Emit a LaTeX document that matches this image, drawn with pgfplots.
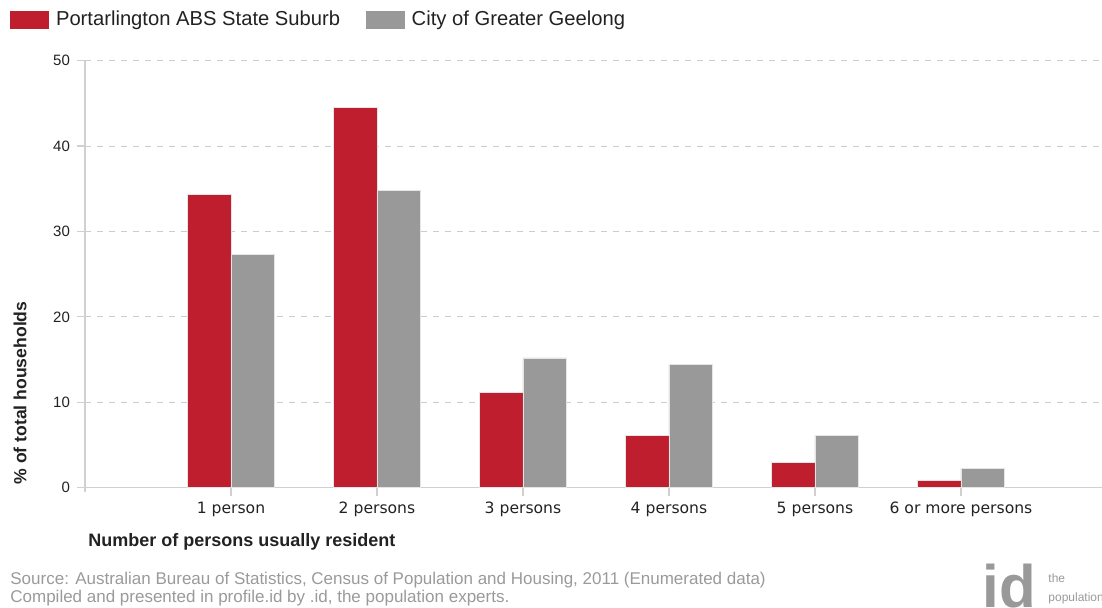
\documentclass[border=0pt]{standalone}
\usepackage{pgfplots}
\pgfplotsset{compat=1.18}
\usepackage{fontspec}
\setmainfont{Liberation Sans}
\newfontfamily\dejavu{DejaVu Sans}
\definecolor{barred}{HTML}{BE1E2D}
\definecolor{bargrey}{HTML}{999999}
\definecolor{axisgrey}{HTML}{D0D0D0}
\definecolor{gridgrey}{HTML}{CCCCCC}
\definecolor{txt}{HTML}{222222}
\definecolor{foot}{HTML}{9A9A9A}
\begin{document}
\begin{tikzpicture}
\path[use as bounding box] (0,0) rectangle (551pt,304pt);
\begin{axis}[
  at={(42.5pt,60.15pt)}, anchor=south west,
  scale only axis, width=508.5pt, height=213.5pt,
  xmin=0, xmax=6.966, ymin=0, ymax=50,
  enlargelimits=false,
  axis lines=left,
  axis line style={-, draw=axisgrey, line width=0.8pt},
  ytick={0,10,20,30,40,50},
  xtick={1,2,3,4,5,6},
  xticklabels={1 person,2 persons,3 persons,4 persons,5 persons,6 or more persons},
  x tick label style={font=\dejavu\fontsize{7.8}{9}\selectfont, text=txt, text height=6pt, text depth=1.6pt, yshift=0.5pt},
  y tick label style={font=\fontsize{7.5}{9}\selectfont, text=txt},
  /pgf/number format/assume math mode=true,
  tick align=outside,
  major tick length=4pt,
  tick style={draw=axisgrey, line width=0.6pt},
  ymajorgrids,
  grid style={dashed, draw=gridgrey, line width=0.5pt},
  legend style={at={(-0.0796,1.095)}, anchor=west, draw=none, fill=none,
    font=\fontsize{10.1}{12}\selectfont, text=txt,
    /tikz/every even column/.append style={column sep=11pt},
    /tikz/every odd column/.append style={column sep=1.5pt}},
  legend columns=2,
  legend cell align=left,
]
\addplot[ybar, bar width=0.297, bar shift=-0.1485, fill=barred, draw=white!80!gray, line width=0.3pt,
  legend image code/.code={\fill[barred] (0pt,-4.2pt) rectangle (19pt,4.2pt);}]
  coordinates {(1,34.3) (2,44.5) (3,11.2) (4,6.1) (5,3.0) (6,0.9)};
\addplot[ybar, bar width=0.297, bar shift=0.1485, fill=bargrey, draw=white!80!gray, line width=0.3pt,
  legend image code/.code={\fill[bargrey] (0pt,-4.2pt) rectangle (19pt,4.2pt);}]
  coordinates {(1,27.3) (2,34.8) (3,15.2) (4,14.4) (5,6.1) (6,2.3)};
\legend{Portarlington ABS State Suburb, City of Greater Geelong}
\end{axis}
\draw[axisgrey, line width=0.8pt] (42.5pt,60.15pt) -- (42.5pt,58pt);
\node[rotate=90, font=\bfseries\fontsize{8.8}{10}\selectfont, text=txt] at (10pt,107.5pt) {\% of total households};
\node[anchor=west, inner sep=0pt, font=\bfseries\fontsize{9}{11}\selectfont, text=txt] at (44pt,33pt) {Number of persons usually resident};
\node[anchor=west, inner sep=0pt, font=\fontsize{8.5}{10}\selectfont, text=foot] at (5pt,14pt) {Source: Australian Bureau of Statistics, Census of Population and Housing, 2011 (Enumerated data)};
\node[anchor=west, inner sep=0pt, font=\fontsize{8.5}{10}\selectfont, text=foot] at (5pt,5pt) {Compiled and presented in profile.id by .id, the population experts.};
\node[anchor=north west, inner sep=0pt, font=\bfseries\fontsize{30}{30}\selectfont, text=bargrey] at (491pt,22pt) {id};
\node[anchor=west, inner sep=0pt, font=\fontsize{6}{7}\selectfont, text=bargrey] at (524pt,15pt) {the};
\node[anchor=west, inner sep=0pt, font=\fontsize{6}{7}\selectfont, text=bargrey] at (524pt,5pt) {population experts};
\end{tikzpicture}
\end{document}
